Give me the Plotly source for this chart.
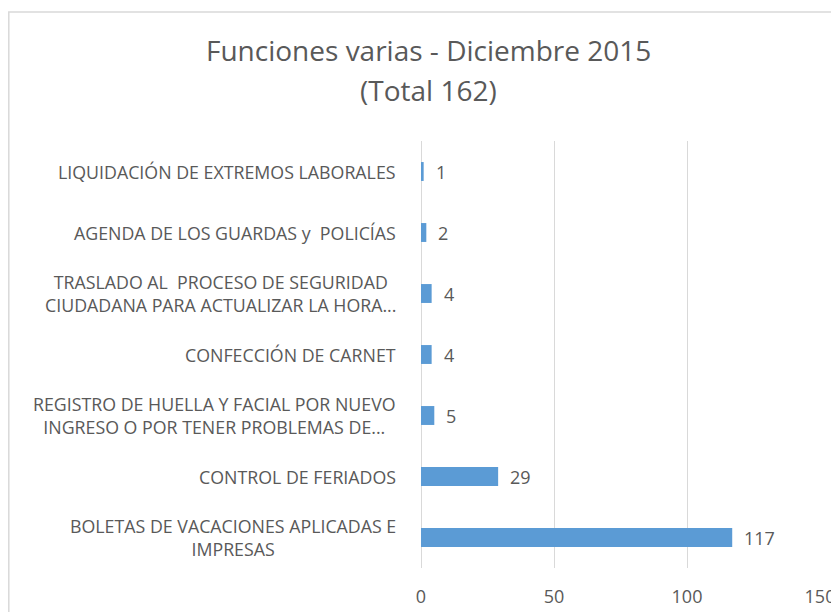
import plotly.graph_objects as go

categories = [
    "BOLETAS DE VACACIONES APLICADAS E<br>IMPRESAS",
    "CONTROL DE FERIADOS",
    "REGISTRO DE HUELLA Y FACIAL POR NUEVO<br>INGRESO O POR TENER PROBLEMAS DE...",
    "CONFECCIÓN DE CARNET",
    "TRASLADO AL  PROCESO DE SEGURIDAD<br>CIUDADANA PARA ACTUALIZAR LA HORA...",
    "AGENDA DE LOS GUARDAS y  POLICÍAS",
    "LIQUIDACIÓN DE EXTREMOS LABORALES",
]
values = [117, 29, 5, 4, 4, 2, 1]
x_ticks = [0, 50, 100, 150]
title_line1 = "Funciones varias - Diciembre 2015"
title_line2 = "(Total 162)"

# The page body adds an 8px offset, so figure coords = screen coords - 8
OFF = 8
W, H = 839 - OFF, 612 - OFF
L, R, T, B = 421 - OFF, 820 - OFF, 141 - OFF, 568 - OFF  # plot area in figure px


def px_x(p):
    return (p - OFF - L) / (R - L)


def px_y(p):
    return (B - (p - OFF)) / (B - T)


FONT = "'Open Sans', Lato, sans-serif"
GRAY = "#595959"

fig = go.Figure(
    go.Bar(
        x=values,
        y=categories,
        orientation="h",
        marker=dict(color="#5b9bd5", line=dict(width=0)),
        hoverinfo="x+y",
    )
)

annotations = []
# data labels
for c, v in zip(categories, values):
    annotations.append(dict(
        x=v, y=c, xref="x", yref="y", text=str(v), showarrow=False,
        xanchor="left", yanchor="middle", xshift=10,
        font=dict(family=FONT, size=18, color=GRAY),
    ))
# category labels
for c in categories:
    annotations.append(dict(
        x=px_x(398), y=c, xref="paper", yref="y", text=c, showarrow=False,
        xanchor="right", yanchor="middle", align="center",
        font=dict(family=FONT, size=17.8, color=GRAY),
    ))
# title
annotations.append(dict(
    x=px_x(428), y=px_y(50), xref="paper", yref="paper", text=title_line1,
    showarrow=False, xanchor="center", yanchor="middle",
    font=dict(family=FONT, size=28, color=GRAY),
))
annotations.append(dict(
    x=px_x(428), y=px_y(90), xref="paper", yref="paper", text=title_line2,
    showarrow=False, xanchor="center", yanchor="middle",
    font=dict(family=FONT, size=28, color=GRAY),
))

fig.update_layout(
    width=W, height=H,
    margin=dict(l=L, r=W - R, t=T, b=H - B, autoexpand=False),
    paper_bgcolor="white", plot_bgcolor="white",
    bargap=0.69,
    showlegend=False,
    annotations=annotations,
    shapes=[dict(
        type="rect", xref="paper", yref="paper",
        x0=px_x(8.8), x1=px_x(900), y0=px_y(700), y1=px_y(12),
        line=dict(color="#d9d9d9", width=1.5), fillcolor="rgba(0,0,0,0)",
        layer="below",
    )],
    xaxis=dict(
        range=[0, 150], tickvals=x_ticks, ticktext=[str(t) for t in x_ticks],
        showgrid=True, gridcolor="#d9d9d9", gridwidth=1,
        zeroline=True, zerolinecolor="#d9d9d9", zerolinewidth=1,
        showline=False, ticks="",
        tickfont=dict(family=FONT, size=18, color=GRAY),
        ticklabelstandoff=16, fixedrange=True,
    ),
    yaxis=dict(
        categoryorder="array", categoryarray=categories,
        showticklabels=False, showgrid=False, zeroline=False, showline=False,
        ticks="", fixedrange=True,
    ),
)

fig.write_html("out.html")
